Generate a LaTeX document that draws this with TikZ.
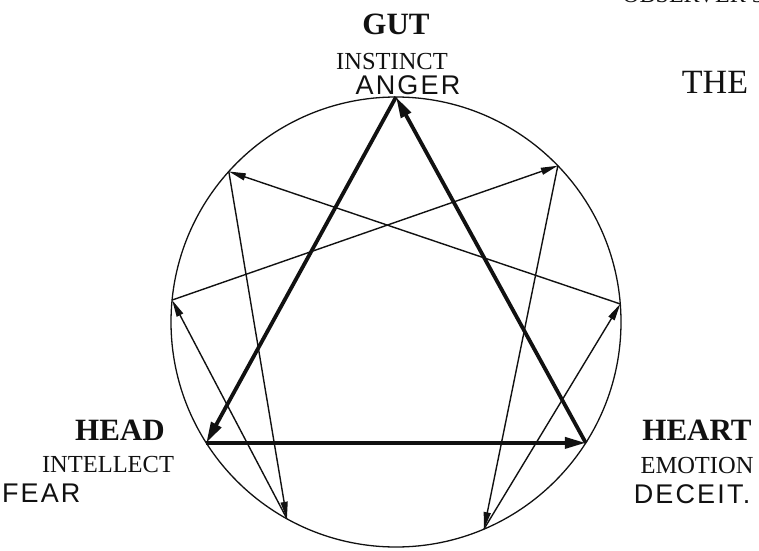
\documentclass[tikz,border=0pt]{standalone}
\usepackage{fontspec}
\setmainfont{Liberation Serif}
\newfontfamily\handfont[LetterSpace=8]{Liberation Sans}
\usepackage{tikz}
\usetikzlibrary{arrows.meta,positioning,calc}
\definecolor{ink}{HTML}{111111}

\begin{document}
\begin{tikzpicture}[x=1pt,y=1pt,
    centre/.style={font=\bfseries\fontsize{31}{33}\selectfont, text=ink, inner sep=0pt},
    faculty/.style={font=\fontsize{24.5}{27}\selectfont, text=ink, inner sep=0pt},
    passion/.style={font=\handfont\fontsize{27}{30}\selectfont, text=ink, inner sep=0pt},
    hexad/.style={draw=ink, line width=1.4pt, -{Triangle[length=17pt,width=7pt]}},
    triad/.style={draw=ink, line width=3.8pt, -{Triangle[length=21pt,width=11pt]}},
]
\useasboundingbox (0,0) rectangle (759,550);

\coordinate (c) at (396,228);
\draw[ink, line width=1.3pt] (c) circle (225);

% the nine points on the circle
\foreach \n/\a in {9/90,1/44,2/4.6,3/-32.5,4/-67,5/-119,6/-147.5,7/174.4,8/138}
  \coordinate (p\n) at ($(c)+(\a:225)$);

% triangle
\draw[triad] (p9) -- (p6);
\draw[triad] (p6) -- (p3);
\draw[triad] (p3) -- (p9);

% hexad
\draw[hexad] (p1) -- (p4);
\draw[hexad] (p4) -- (p2);
\draw[hexad] (p2) -- (p8);
\draw[hexad] (p8) -- (p5);
\draw[hexad] (p5) -- (p7);
\draw[hexad] (p7) -- (p1);

% centres
\node[centre] (gut) at (396,526) {GUT};
\node[faculty,below=18pt of gut,xshift=-4pt] (instinct) {INSTINCT};
\node[passion,below=6pt of instinct,xshift=16pt] (anger) {ANGER};

\node[centre] (head) at (120,120) {HEAD};
\node[faculty,below=16pt of head,xshift=-12pt] (intellect) {INTELLECT};
\node[passion,below=10pt of intellect.south west,anchor=north west,xshift=-40pt] (fear) {FEAR};

\node[centre] (heart) at (697,120) {HEART};
\node[faculty,below=17pt of heart] (emotion) {EMOTION};
\node[passion,below=10pt of emotion,xshift=-5pt] (deceit) {DECEIT.};

\node[font=\fontsize{34}{36}\selectfont, text=ink, inner sep=0pt] (the) at (715,468) {THE};
\node[font=\fontsize{24}{26}\selectfont, text=ink, inner sep=0pt, anchor=base east] (observer) at (764,547) {OBSERVER 5};

\end{tikzpicture}
\end{document}
